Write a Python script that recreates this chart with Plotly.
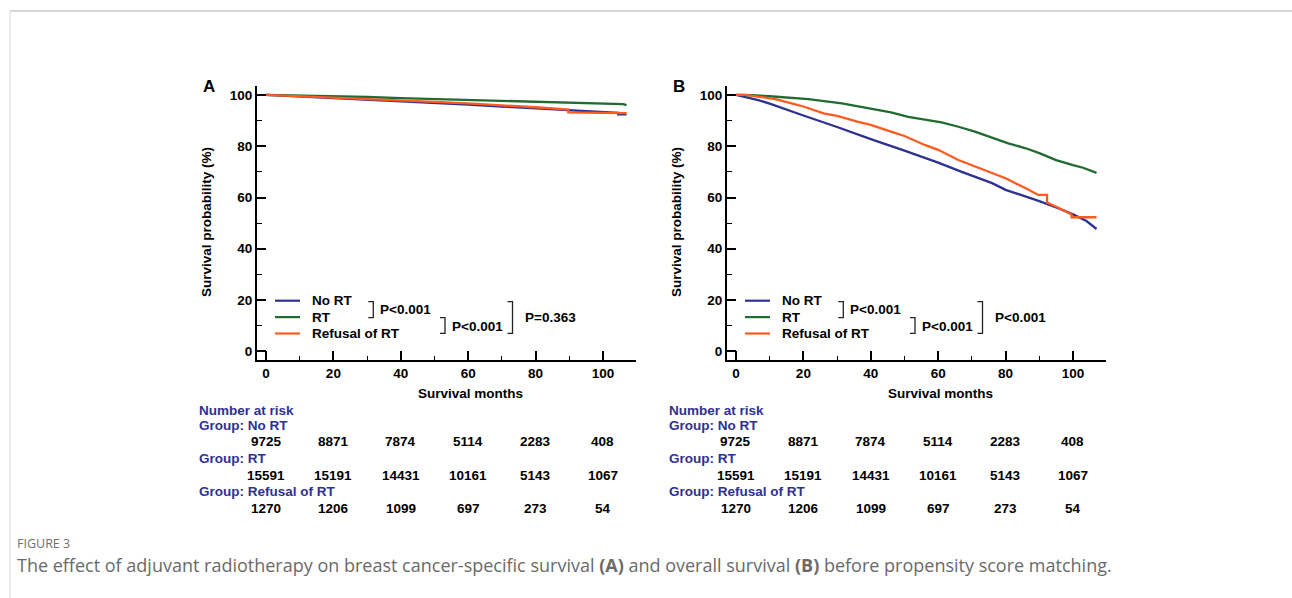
import plotly.graph_objects as go

W, H = 1292, 598

# ---------------- data ----------------
groups = ["No RT", "RT", "Refusal of RT"]
colors = ["#2e3192", "#1f6b30", "#ff5a1f"]

# Panel A: breast cancer-specific survival
no_rt_a_x = [0, 10, 20, 30, 40, 50, 60, 70, 80, 90, 100, 104.5, 104.5, 107]
no_rt_a_y = [100, 99.4, 98.8, 98.1, 97.5, 96.9, 96.2, 95.5, 94.8, 94.0, 93.3, 93.0, 92.4, 92.4]
rt_a_x = [0, 10, 20, 30, 40, 50, 60, 70, 80, 90, 100, 106, 107]
rt_a_y = [100, 99.8, 99.5, 99.2, 98.8, 98.4, 98.0, 97.6, 97.2, 96.9, 96.6, 96.4, 96.0]
ref_a_x = [0, 10, 20, 30, 40, 50, 60, 70, 80, 89.7, 89.7, 100, 107]
ref_a_y = [100, 99.5, 99.0, 98.5, 97.9, 97.3, 96.7, 96.0, 95.2, 94.3, 93.2, 93.0, 92.9]

# Panel B: overall survival
no_rt_b_x = [0, 3, 6.6, 10, 16.5, 20, 30, 36, 40, 50, 56, 60, 67, 70, 76, 80, 90, 96, 100, 104, 107]
no_rt_b_y = [100, 99.2, 98.0, 96.6, 93.5, 92.0, 87.5, 84.6, 82.8, 78.3, 75.5, 73.6, 70.0, 68.6, 65.6, 63.0, 58.6, 55.6, 53.4, 50.8, 47.7]
rt_b_x = [0, 5, 10, 15, 21.5, 31.4, 41.2, 46, 51.1, 61, 66, 70.9, 80.8, 86, 90, 95, 100, 103, 107]
rt_b_y = [100, 99.9, 99.5, 99.0, 98.4, 96.7, 94.5, 93.2, 91.5, 89.3, 87.6, 85.7, 81.1, 79.2, 77.3, 74.6, 72.6, 71.6, 69.6]
ref_b_x = [0, 3, 7, 12, 16.5, 20, 26, 30, 36, 40, 46, 50, 56, 60, 66, 70, 76, 80, 86, 89.7, 92.3, 92.3, 96, 99.6, 99.6, 107]
ref_b_y = [100, 100, 99.3, 98.3, 96.7, 95.5, 92.8, 91.8, 89.6, 88.3, 85.7, 84.0, 80.5, 78.6, 74.6, 72.5, 69.4, 67.5, 63.6, 61.0, 61.0, 58.0, 55.8, 53.4, 52.3, 52.3]

# Number at risk
risk_months = [0, 20, 40, 60, 80, 100]
risk_no_rt = [9725, 8871, 7874, 5114, 2283, 408]
risk_rt = [15591, 15191, 14431, 10161, 5143, 1067]
risk_refusal = [1270, 1206, 1099, 697, 273, 54]

pvals_a = ["P<0.001", "P<0.001", "P=0.363"]
pvals_b = ["P<0.001", "P<0.001", "P<0.001"]

x_ticks = [0, 20, 40, 60, 80, 100]
x_minor = [10, 30, 50, 70, 90]
y_ticks = [0, 20, 40, 60, 80, 100]
y_minor = [10, 30, 50, 70, 90]

caption_head = "FIGURE 3"
caption_text = ("The effect of adjuvant radiotherapy on breast cancer-specific survival <b>(A)</b> "
                "and overall survival <b>(B)</b> before propensity score matching.")

# ---------------- helpers ----------------
def fx(x):
    return x / W

def fy(y):
    return 1 - y / H

FONT = "Liberation Sans, Arial, Helvetica, sans-serif"
NAVY = "#2e3192"

fig = go.Figure()

panels = [
    ("x", "y", [(no_rt_a_x, no_rt_a_y), (rt_a_x, rt_a_y), (ref_a_x, ref_a_y)]),
    ("x2", "y2", [(no_rt_b_x, no_rt_b_y), (rt_b_x, rt_b_y), (ref_b_x, ref_b_y)]),
]
for xa, ya, series in panels:
    for (sx, sy), name, c in zip(series, groups, colors):
        fig.add_trace(go.Scatter(x=sx, y=sy, mode="lines", name=name, xaxis=xa, yaxis=ya,
                                 line=dict(color=c, width=2.3), showlegend=False,
                                 hoverinfo="skip"))

axis_common = dict(
    showline=True, linecolor="black", linewidth=2, showgrid=False, zeroline=False,
    ticks="inside", ticklen=9, tickwidth=1.5, tickcolor="black",
    tickfont=dict(family=FONT, size=13.5, color="black", weight="bold"),
)
xr = [-2.67, 109.8]
yr = [-3.4, 103.5]
ydom = [fy(360), fy(86)]

fig.update_layout(
    width=W, height=H, margin=dict(l=0, r=0, t=0, b=0),
    paper_bgcolor="white", plot_bgcolor="white",
    xaxis=dict(domain=[fx(257), fx(636)], range=xr, tickvals=x_ticks, anchor="y",
               minor=dict(tickvals=x_minor, ticks="inside", ticklen=4, tickwidth=1.2, tickcolor="black"),
               **axis_common),
    yaxis=dict(domain=ydom, range=yr, tickvals=y_ticks, anchor="x",
               minor=dict(tickvals=y_minor, ticks="inside", ticklen=5, tickwidth=1.2, tickcolor="black"),
               ticklabelstandoff=0, **axis_common),
    xaxis2=dict(domain=[fx(727), fx(1106)], range=xr, tickvals=x_ticks, anchor="y2",
                minor=dict(tickvals=x_minor, ticks="inside", ticklen=4, tickwidth=1.2, tickcolor="black"),
                **axis_common),
    yaxis2=dict(domain=ydom, range=yr, tickvals=y_ticks, anchor="x2",
                minor=dict(tickvals=y_minor, ticks="inside", ticklen=5, tickwidth=1.2, tickcolor="black"),
                ticklabelstandoff=0, **axis_common),
)

annotations = []
shapes = []

def txt(x, y, text, size=13.5, color="black", xanchor="center", yanchor="middle",
        bold=True, family=FONT, xref="paper", angle=0):
    annotations.append(dict(
        x=x if xref != "paper" else fx(x), y=fy(y), xref=xref, yref="paper",
        text=text, showarrow=False, xanchor=xanchor, yanchor=yanchor, textangle=angle,
        font=dict(family=family, size=size, color=color, weight="bold" if bold else "normal"),
    ))

for k, (xa, label, pv) in enumerate([("x", "A", pvals_a), ("x2", "B", pvals_b)]):
    dx = 470 * k
    # panel letter
    txt(209 + dx, 86, label, size=17)
    # axis titles
    txt(470 + dx, 393, "Survival months")
    txt(207 + dx, 222, "Survival probability (%)", angle=-90)
    # legend
    for i, (name, c) in enumerate(zip(groups, colors)):
        yy = 300.7 + 16.4 * i
        shapes.append(dict(type="line", xref="paper", yref="paper",
                           x0=fx(275 + dx), x1=fx(300 + dx), y0=fy(yy), y1=fy(yy),
                           line=dict(color=c, width=2.2)))
        txt(310 + dx, yy, name, size=13.5, xanchor="left")
    # brackets
    br = [(373.3, 301.7, 317.7), (445, 317.7, 333.3), (512.5, 301.7, 333.3)]
    tx = [(378, 309.5), (450, 326), (523, 317.7)]
    for (bx, y0, y1), (tpx, tpy), p in zip(br, tx, pv):
        bx += dx
        path = (f"M {fx(bx-5)} {fy(y0)} L {fx(bx)} {fy(y0)} "
                f"L {fx(bx)} {fy(y1)} L {fx(bx-5)} {fy(y1)}")
        shapes.append(dict(type="path", xref="paper", yref="paper", path=path,
                           line=dict(color="#222222", width=1.3)))
        txt(tpx + dx, tpy, p, xanchor="left")
    # risk table
    lx = 197 + dx
    txt(lx, 410, "Number at risk", color=NAVY, xanchor="left")
    rows = [("Group: No RT", risk_no_rt), ("Group: RT", risk_rt),
            ("Group: Refusal of RT", risk_refusal)]
    for j, (gname, vals) in enumerate(rows):
        gy = 425.7 + 33 * j
        vy = 441.7 + 33.3 * j
        txt(lx, gy, gname, color=NAVY, xanchor="left")
        for m, v in zip(risk_months, vals):
            txt(m, vy, str(v), xref=xa)

# caption
txt(15, 543, caption_head, size=12.5, color="#6f6f6f", xanchor="left", bold=False,
    family="Open Sans, Noto Sans, sans-serif")
txt(15, 565, caption_text, size=18, color="#6a6a6a", xanchor="left", bold=False,
    family="Open Sans, Noto Sans, sans-serif")

# page frame
shapes.append(dict(type="line", xref="paper", yref="paper", x0=fx(10), x1=1, y0=fy(11), y1=fy(11),
                   line=dict(color="#d6d6d6", width=2)))
shapes.append(dict(type="line", xref="paper", yref="paper", x0=fx(10), x1=fx(10), y0=fy(11), y1=0,
                   line=dict(color="#d6d6d6", width=1)))

fig.update_layout(annotations=annotations, shapes=shapes)
fig.write_html("out.html", config={"displayModeBar": False},
               post_script="document.body.style.margin='0';document.body.style.padding='0';")
